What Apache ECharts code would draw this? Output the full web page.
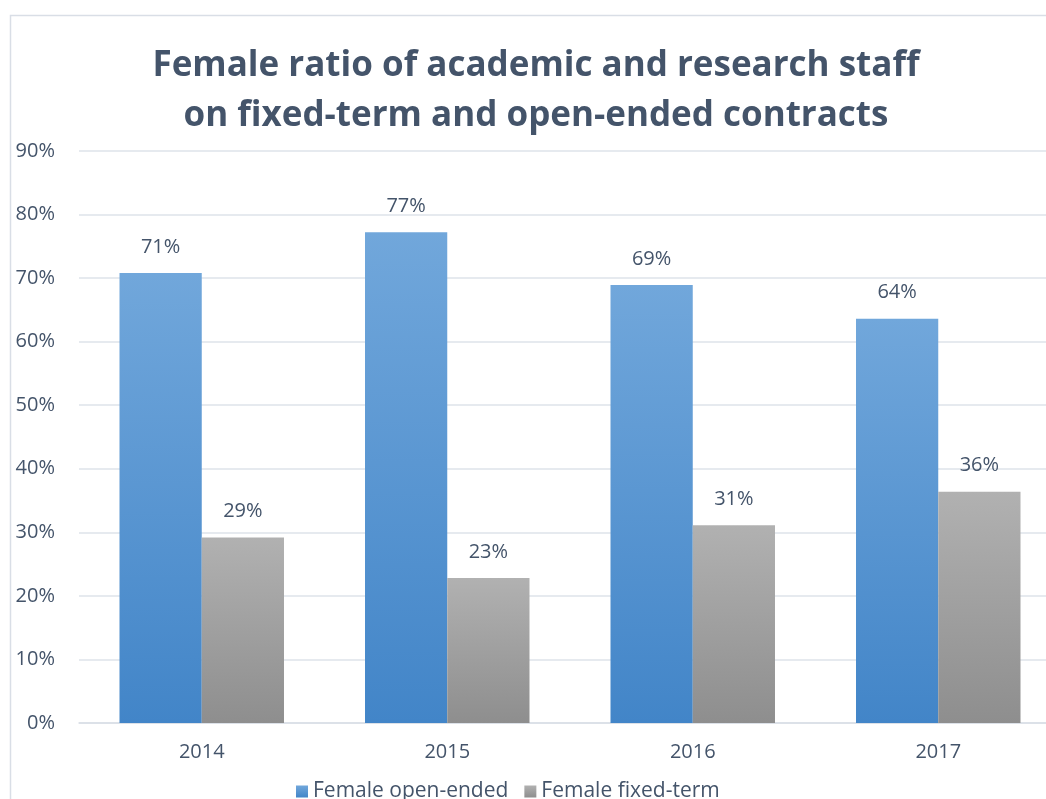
<!DOCTYPE html>
<html>
<head>
<meta charset="utf-8">
<script src="https://cdn.jsdelivr.net/npm/echarts@6/dist/echarts.min.js"></script>
<style>
  html, body { margin: 0; padding: 0; background: #ffffff; }
  #chart { width: 1046px; height: 799px; }
</style>
</head>
<body>
<div id="chart"></div>
<script>
// Academic and research staff: share of women by contract type (%)
const years = ['2014', '2015', '2016', '2017'];
const openEnded = [70.8, 77.2, 68.9, 63.6];
const fixedTerm = [29.2, 22.8, 31.1, 36.4];
const seriesNames = ['Female open-ended', 'Female fixed-term'];

const textColor = '#44546A';
const font = 'Open Sans';

function vGrad(top, bottom) {
  return new echarts.graphic.LinearGradient(0, 0, 0, 1, [
    { offset: 0, color: top },
    { offset: 1, color: bottom }
  ]);
}

const chart = echarts.init(document.getElementById('chart'), null, { renderer: 'canvas' });

const labelStyle = {
  show: true,
  position: 'top',
  distance: 16,
  color: textColor,
  fontFamily: font,
  fontSize: 20,
  formatter: p => Math.round(p.value) + '%'
};

chart.setOption({
  animation: false,
  backgroundColor: '#ffffff',
  title: {
    text: 'Female ratio of academic and research staff\non fixed-term and open-ended contracts',
    left: 531,
    textAlign: 'center',
    top: 36,
    textStyle: {
      color: textColor,
      fontFamily: font,
      fontWeight: 'bold',
      fontSize: 35,
      lineHeight: 50
    }
  },
  graphic: [{
    type: 'polyline',
    shape: { points: [[10.5, 800], [10.5, 15.5], [1050, 15.5]] },
    style: { stroke: '#D9DEE6', lineWidth: 1.5, fill: null },
    silent: true
  }],
  legend: {
    data: seriesNames,
    top: 776,
    left: 291,
    itemWidth: 12,
    itemHeight: 12,
    itemGap: 16,
    icon: 'rect',
    textStyle: { color: textColor, fontFamily: font, fontSize: 21 }
  },
  // plot area runs past the right edge of the canvas
  grid: { left: 79, width: 982, top: 151, bottom: 76, outerBoundsMode: 'none', containLabel: false },
  xAxis: {
    type: 'category',
    data: years,
    axisLine: { show: true, lineStyle: { color: '#D9DEE6', width: 1.5 } },
    axisTick: { show: false },
    axisLabel: { color: textColor, fontFamily: font, fontSize: 20, margin: 19 }
  },
  yAxis: {
    type: 'value',
    min: 0,
    max: 90,
    interval: 10,
    axisLine: { show: false },
    axisTick: { show: false },
    splitLine: { lineStyle: { color: '#DEE3EA', width: 1.5 } },
    axisLabel: {
      color: textColor,
      fontFamily: font,
      fontSize: 20,
      margin: 24,
      formatter: v => v + '%'
    }
  },
  series: [
    {
      name: seriesNames[0],
      type: 'bar',
      data: openEnded,
      barGap: '0%',
      barCategoryGap: '33%',
      itemStyle: { color: vGrad('#71A7DB', '#4285C8') },
      label: labelStyle
    },
    {
      name: seriesNames[1],
      type: 'bar',
      data: fixedTerm,
      itemStyle: { color: vGrad('#B1B1B1', '#8E8E8E') },
      label: labelStyle
    }
  ]
});
</script>
</body>
</html>
